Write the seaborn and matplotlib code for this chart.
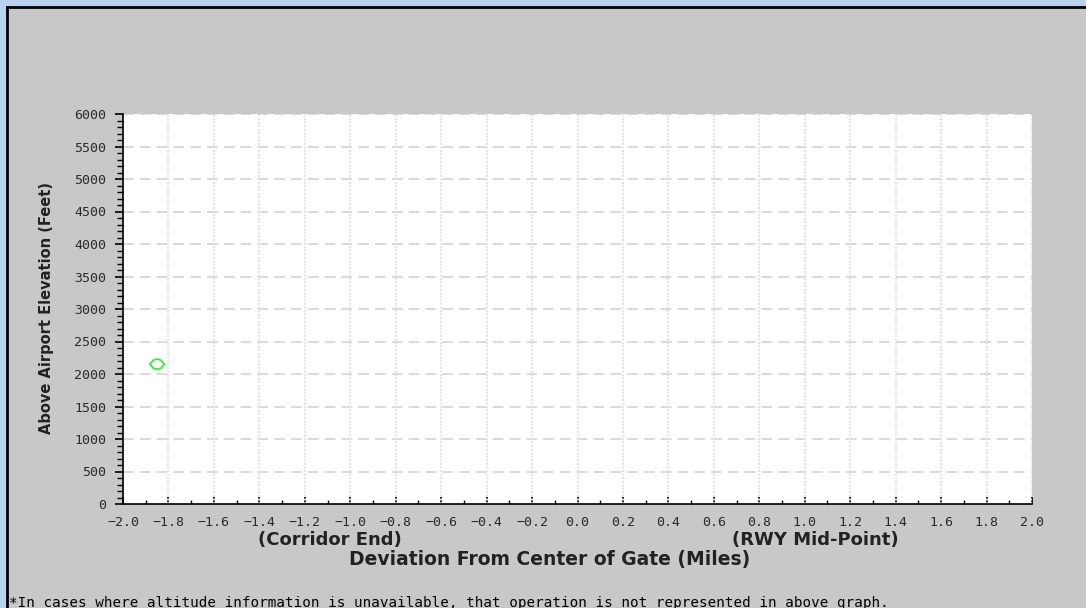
import numpy as np
import pandas as pd
import matplotlib
matplotlib.use("Agg")
import matplotlib.pyplot as plt
from matplotlib.ticker import MultipleLocator, FuncFormatter
from matplotlib.path import Path
import seaborn as sns

# 数据
dev_miles = [-1.85]
elev_feet = [2150]
x_ticks = [-2.0, -1.8, -1.6, -1.4, -1.2, -1.0, -0.8, -0.6, -0.4, -0.2, 0.0,
           0.2, 0.4, 0.6, 0.8, 1.0, 1.2, 1.4, 1.6, 1.8, 2.0]
y_ticks = [0, 500, 1000, 1500, 2000, 2500, 3000, 3500, 4000, 4500, 5000, 5500, 6000]

sns.set_style("white")
plt.rcParams['font.family'] = ['DejaVu Sans']

W, H = 1086, 608
fig = plt.figure(figsize=(W / 100, H / 100), dpi=100)
fig.patch.set_facecolor('#b9d1ee')

# 灰色面板和黑色边线
bg = fig.add_axes([7 / W, 0, 1 - 7 / W, 1 - 7 / H], zorder=0)
bg.set_facecolor('#c8c8c8')
bg.set_xticks([])
bg.set_yticks([])
for s in ['right', 'bottom']:
    bg.spines[s].set_visible(False)
for s in ['left', 'top']:
    bg.spines[s].set_color('black')
    bg.spines[s].set_linewidth(2)

ax = fig.add_axes([123 / W, 104 / H, (1032 - 123) / W, (504 - 114) / H], zorder=2)
ax.set_facecolor('white')

df = pd.DataFrame({'dev': dev_miles, 'elev': elev_feet})

# 扁平菱形
diamond = Path([(-1, 0), (-0.45, 0.6), (0, 0.7), (0.45, 0.6), (1, 0),
                (0.45, -0.6), (0, -0.7), (-0.45, -0.6), (-1, 0)],
               [Path.MOVETO] + [Path.LINETO] * 7 + [Path.CLOSEPOLY])
sns.scatterplot(data=df, x='dev', y='elev', ax=ax, marker=diamond, s=110,
                facecolor='none', edgecolor='#33ee33', linewidth=1.3, zorder=5)

ax.set_xlim(x_ticks[0], x_ticks[-1])
ax.set_ylim(y_ticks[0], y_ticks[-1])
ax.set_xticks(x_ticks)
ax.set_yticks(y_ticks)
ax.xaxis.set_minor_locator(MultipleLocator(0.1))
ax.yaxis.set_minor_locator(MultipleLocator(100))
ax.xaxis.set_major_formatter(FuncFormatter(lambda v, p: f"{v:.1f}".replace('-', '\u2212')))

for s in ['top', 'right']:
    ax.spines[s].set_visible(False)
for s in ['left', 'bottom']:
    ax.spines[s].set_color('black')
    ax.spines[s].set_linewidth(1.2)

mono = ['DejaVu Sans Mono']
ax.tick_params(axis='y', which='major', direction='out', length=6, width=1.2, color='black',
               left=True, labelsize=9.5, pad=6)
ax.tick_params(axis='y', which='minor', direction='out', length=4, width=1.0, color='black', left=True)
ax.tick_params(axis='x', which='major', direction='in', length=5, width=1.2, color='black',
               bottom=True, labelsize=9.5, pad=9)
ax.tick_params(axis='x', which='minor', direction='in', length=3, width=1.0, color='black', bottom=True)
for lab in ax.get_xticklabels() + ax.get_yticklabels():
    lab.set_family(mono)
    lab.set_color('#2a2a2a')

# 网格线
for yv in y_ticks[1:]:
    ax.axhline(yv, color='#cfcfcf', lw=1.1, ls=(0, (7, 4)), zorder=1)
for xv in x_ticks[1:]:
    ax.axvline(xv, color='#e2e2e2', lw=1.6, ls=(0, (0.8, 0.8)), zorder=1)

ax.set_xlabel('')
ax.set_ylabel('')

txt = dict(fontweight='bold', color='#222222', zorder=5)
fig.text(47 / W, 1 - 308 / H, 'Above Airport Elevation (Feet)', ha='center', va='center',
         rotation=90, fontsize=10.5, **txt)
fig.text(329.5 / W, 1 - 540 / H, '(Corridor End)', ha='center', va='center',
         fontsize=13, **txt)
fig.text(815.5 / W, 1 - 540 / H, '(RWY Mid-Point)', ha='center', va='center',
         fontsize=13, **txt)
fig.text(549.5 / W, 1 - 560 / H, 'Deviation From Center of Gate (Miles)', ha='center',
         va='center', fontsize=13.5, **txt)
fig.text(9 / W, 1 - 603 / H,
         '*In cases where altitude information is unavailable, that operation is not represented in above graph.',
         ha='left', va='center', fontsize=10.3, family=mono, color='black', zorder=5)

fig.savefig('out.png', dpi=100, facecolor=fig.get_facecolor())
